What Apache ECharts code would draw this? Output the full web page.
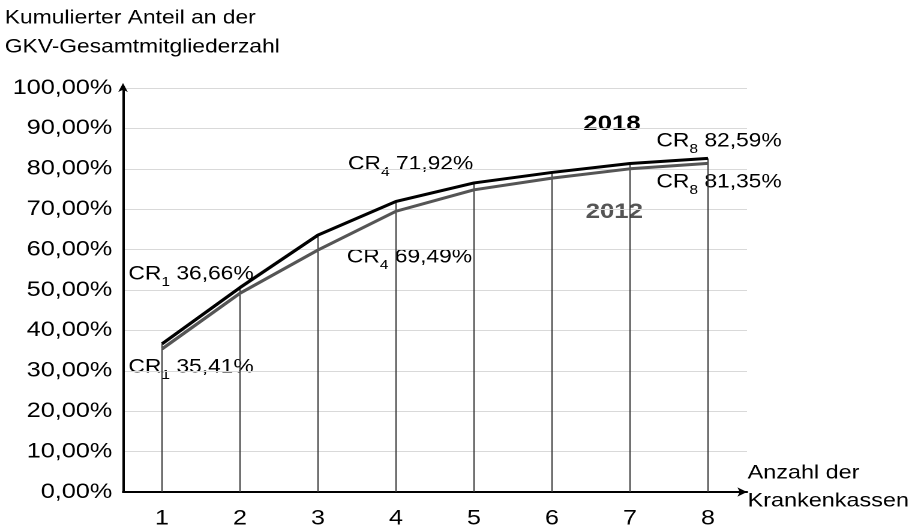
<!DOCTYPE html>
<html>
<head>
<meta charset="utf-8">
<script src="https://cdn.jsdelivr.net/npm/echarts@6/dist/echarts.min.js"></script>
<style>
  html, body { margin: 0; padding: 0; background: #fff; overflow: hidden; }
  /* the original figure is stretched horizontally, so draw narrower and stretch */
  #main { width: 763px; height: 531px; transform: scaleX(1.2); transform-origin: 0 0; }
</style>
</head>
<body>
<div id="main"></div>
<script>
// Anzahl der Krankenkassen
var categories = ['1', '2', '3', '4', '5', '6', '7', '8'];
// kumulierter Anteil (%)
var values2018 = [36.66, 50.6, 63.6, 71.92, 76.5, 79.1, 81.3, 82.59];
var values2012 = [35.41, 49.2, 59.9, 69.49, 74.8, 77.7, 80.0, 81.35];

var FONT = '"Liberation Sans", Arial, sans-serif';
var GREY = '#555555';

function note(left, centerY, idx, val, color) {
    return {
        type: 'text',
        left: left,
        top: centerY - 11,
        style: {
            text: '{a|CR}{s|' + idx + '}{a| ' + val + '}',
            rich: {
                a: { fontFamily: FONT, fontSize: 19, lineHeight: 22, color: color, verticalAlign: 'top' },
                s: { fontFamily: FONT, fontSize: 13, lineHeight: 13, color: color, verticalAlign: 'top', padding: [11, 0, 0, 0] }
            }
        }
    };
}

var myChart = echarts.init(document.getElementById('main'), null, { devicePixelRatio: 2 });
var option = {
    backgroundColor: '#fff',
    animation: false,
    textStyle: { fontFamily: FONT },
    grid: { left: 102.5, right: 140.5, top: 88, bottom: 39, containLabel: false },
    xAxis: {
        type: 'category',
        data: categories,
        boundaryGap: true,
        axisLine: {
            lineStyle: { color: '#000', width: 2 },
            symbol: ['none', 'arrow'],
            symbolSize: [7, 8]
        },
        axisTick: { show: false },
        axisLabel: { fontSize: 21, color: '#000', fontFamily: FONT, margin: 16 },
        splitLine: { show: false }
    },
    yAxis: {
        type: 'value',
        min: 0,
        max: 100,
        interval: 10,
        axisLine: {
            show: true,
            lineStyle: { color: '#000', width: 2 },
            symbol: ['none', 'arrow'],
            symbolSize: [6, 9],
            symbolOffset: [0, 5]
        },
        axisTick: { show: false },
        axisLabel: {
            fontSize: 21,
            color: '#000',
            fontFamily: FONT,
            margin: 9,
            formatter: function (v) { return v.toFixed(2).replace('.', ',') + '%'; }
        },
        splitLine: { lineStyle: { color: '#d9d9d9', width: 1 } }
    },
    series: [
        {
            name: 'drop',
            type: 'bar',
            data: values2018,
            barWidth: 1,
            itemStyle: { color: '#333' },
            z: 1
        },
        {
            name: '2012',
            type: 'line',
            data: values2012,
            symbol: 'none',
            lineStyle: { color: GREY, width: 3 },
            z: 3
        },
        {
            name: '2018',
            type: 'line',
            data: values2018,
            symbol: 'none',
            lineStyle: { color: '#000', width: 3 },
            z: 4
        }
    ],
    graphic: [
        {
            type: 'text', left: 4, top: 4,
            style: { text: 'Kumulierter Anteil an der\nGKV-Gesamtmitgliederzahl', font: '19px ' + FONT, fill: '#000', lineHeight: 29 }
        },
        note(107, 276, 1, '36,66%', '#000'),
        note(107, 369, 1, '35,41%', GREY),
        note(290, 166, 4, '71,92%', '#000'),
        note(289, 259, 4, '69,49%', GREY),
        note(547, 143, 8, '82,59%', '#000'),
        note(547, 184, 8, '81,35%', GREY),
        {
            type: 'text', left: 486, top: 113,
            style: { text: '2018', font: 'bold 21.5px ' + FONT, fill: '#000' }
        },
        {
            type: 'text', left: 488, top: 201,
            style: { text: '2012', font: 'bold 21.5px ' + FONT, fill: GREY }
        },
        {
            type: 'text', left: 623, top: 459,
            style: { text: 'Anzahl der\nKrankenkassen', font: '19.5px ' + FONT, fill: '#000', lineHeight: 28 }
        }
    ]
};
myChart.setOption(option);
</script>
</body>
</html>
